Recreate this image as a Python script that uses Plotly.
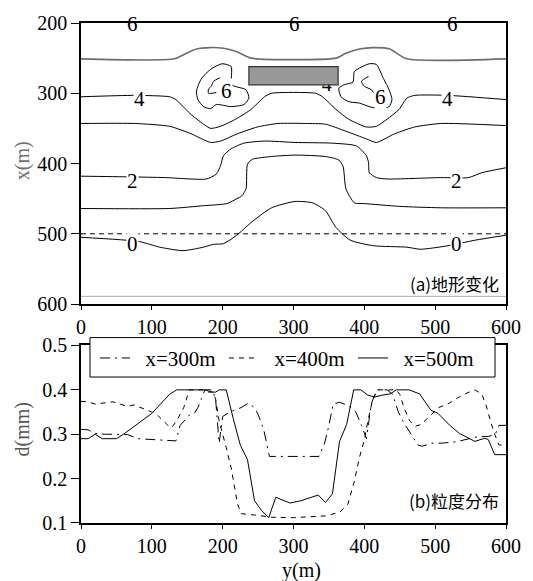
import plotly.graph_objects as go

# ---------------- (a) topography contours: y(m) along shore, x(m) cross-shore ----------------
c5_y = [0, 132, 149, 163, 182, 201, 220, 240, 360, 374, 393, 412, 436, 460, 600]
c5_x = [251, 251, 243, 237, 235, 236, 241, 250, 250, 243, 237, 235, 237, 251, 251]

c4_y = [0, 76, 125, 134, 154, 173, 183, 197, 220, 240, 259, 269, 331, 341, 360, 378, 403, 417, 432, 449, 460, 471, 518, 600]
c4_x = [305, 303, 305, 309, 329, 344, 350, 347, 336, 323, 305, 300, 300, 305, 323, 337, 348, 347, 337, 323, 307, 303, 303, 309]

c3_y = [0, 76, 125, 154, 183, 197, 220, 249, 278, 317, 345, 374, 403, 417, 442, 471, 508, 600]
c3_x = [343, 343, 347, 357, 370, 368, 358, 348, 343, 343, 344, 354, 365, 370, 358, 348, 343, 346]

c2_y = [0, 68, 119, 177, 191, 197, 201, 212, 230, 259, 302, 355, 389, 403, 406, 407, 417, 432, 508, 547, 566, 600]
c2_x = [418, 419, 420, 422, 415, 403, 389, 379, 371, 368, 370, 371, 375, 389, 399, 413, 420, 422, 420, 420, 413, 406]

c1_y = [0, 125, 173, 206, 220, 227, 233, 235, 242, 269, 302, 345, 364, 370, 374, 386, 400, 450, 508, 600]
c1_x = [464, 464, 460, 457, 450, 446, 436, 401, 394, 390, 388, 390, 395, 404, 436, 456, 457, 461, 463, 463]

c0_y = [0, 82, 111, 144, 173, 187, 201, 220, 240, 269, 302, 327, 345, 360, 380, 413, 460, 479, 518, 557, 600]
c0_x = [505, 511, 519, 524, 519, 515, 514, 502, 484, 463, 454, 456, 467, 491, 509, 517, 519, 522, 517, 509, 502]

loopL_y = [199, 212, 213, 233, 237, 230, 212, 191, 183, 173, 165, 163, 170, 183, 199]
loopL_x = [258, 262, 288, 295, 307, 316, 319, 316, 322, 319, 309, 297, 279, 266, 258]
hookL_y = [196, 187, 184, 180, 180, 191]
hookL_x = [278, 283, 290, 294, 300, 299]

loopR_y = [386, 407, 417, 427, 435, 439, 435, 422, 407, 393, 378, 367, 364, 371, 384, 386]
loopR_x = [269, 258, 259, 279, 295, 309, 319, 322, 319, 314, 312, 305, 293, 288, 284, 269]
hookR_y = [406, 396, 400, 410, 413]
hookR_x = [276, 283, 290, 295, 299]

# contour labels: (text, y, x)
label_text = ["6", "6", "6", "6", "6", "4", "4", "2", "2", "0", "0"]
label_y = [72, 302, 525, 205, 423, 82, 518, 72, 530, 72, 530]
label_x = [202, 202, 202, 297, 305, 308, 308, 425, 425, 515, 515]

breakwater_y = [237, 363]
breakwater_x = [262, 288]
section_x = 500        # dashed reference line
shore_x = 589          # grey line

# ---------------- (b) grain size distribution ----------------
y300 = [0, 10, 20, 33, 45, 66, 80, 100, 120, 134, 140, 153, 160, 165, 170, 175, 185, 190, 195, 200, 210, 226, 236, 245, 250, 258, 266, 300, 336, 344, 350, 356, 365, 377, 388, 396, 403, 410, 418, 432, 440, 448, 456, 466, 476, 482, 495, 510, 530, 548, 562, 575, 585, 590, 600]
d300 = [0.311, 0.31, 0.302, 0.30, 0.30, 0.299, 0.29, 0.288, 0.285, 0.285, 0.32, 0.343, 0.347, 0.36, 0.38, 0.40, 0.40, 0.38, 0.28, 0.34, 0.35, 0.36, 0.37, 0.36, 0.345, 0.31, 0.25, 0.25, 0.25, 0.28, 0.32, 0.368, 0.372, 0.365, 0.35, 0.32, 0.29, 0.37, 0.40, 0.40, 0.39, 0.35, 0.325, 0.30, 0.275, 0.273, 0.28, 0.28, 0.283, 0.29, 0.295, 0.295, 0.30, 0.32, 0.32]

y400 = [0, 10, 20, 30, 45, 55, 65, 75, 90, 100, 108, 122, 128, 135, 145, 153, 160, 175, 180, 186, 190, 195, 205, 212, 221, 226, 245, 270, 300, 345, 365, 377, 386, 393, 400, 405, 412, 419, 445, 450, 456, 464, 472, 480, 495, 505, 520, 535, 548, 556, 566, 572, 578, 584, 590, 600]
d400 = [0.374, 0.373, 0.368, 0.37, 0.373, 0.368, 0.363, 0.366, 0.357, 0.35, 0.343, 0.321, 0.315, 0.33, 0.36, 0.40, 0.40, 0.40, 0.395, 0.395, 0.38, 0.33, 0.27, 0.224, 0.143, 0.121, 0.118, 0.113, 0.112, 0.116, 0.124, 0.143, 0.195, 0.247, 0.287, 0.33, 0.38, 0.40, 0.40, 0.39, 0.36, 0.33, 0.318, 0.322, 0.345, 0.36, 0.37, 0.385, 0.395, 0.40, 0.39, 0.365, 0.33, 0.30, 0.276, 0.275]

y500 = [0, 10, 20, 30, 50, 60, 100, 125, 135, 175, 185, 190, 195, 205, 215, 225, 235, 245, 255, 265, 275, 295, 310, 335, 345, 355, 365, 375, 385, 395, 405, 415, 425, 437, 445, 463, 478, 494, 504, 520, 534, 556, 570, 575, 584, 600]
d500 = [0.29, 0.29, 0.30, 0.29, 0.29, 0.30, 0.347, 0.39, 0.40, 0.40, 0.395, 0.395, 0.40, 0.40, 0.335, 0.275, 0.243, 0.15, 0.128, 0.112, 0.158, 0.145, 0.15, 0.163, 0.146, 0.166, 0.284, 0.322, 0.40, 0.40, 0.388, 0.384, 0.388, 0.391, 0.40, 0.40, 0.391, 0.354, 0.347, 0.321, 0.302, 0.284, 0.291, 0.288, 0.254, 0.254]

series_names = ["x=300m", "x=400m", "x=500m"]
series_dash = ["10px,5px,2px,5px", "5px,5px", "solid"]

xticks = [0, 100, 200, 300, 400, 500, 600]
yticks_a = [200, 300, 400, 500, 600]
yticks_b = [0.1, 0.2, 0.3, 0.4, 0.5]

SERIF = "Liberation Serif, Times New Roman, serif"
SANS = "Noto Sans CJK SC, Noto Sans, sans-serif"

W, H = 533, 581
PX0, PX1 = 81, 507      # plot area left/right in page pixels
PY0, PY1 = 16, 523      # plot area top/bottom in page pixels


def px(xp):
    return (xp - PX0) / (PX1 - PX0)


def py(yp):
    return 1 - (yp - PY0) / (PY1 - PY0)


fig = go.Figure()


def contour(ys, xs, color="black", width=1.0):
    fig.add_trace(go.Scatter(x=ys, y=xs, mode="lines", xaxis="x", yaxis="y",
                             line=dict(color=color, width=width, shape="spline", smoothing=0.6),
                             showlegend=False, hoverinfo="skip"))


contour(c5_y, c5_x, color="#6e6e6e", width=1.6)
for ys, xs in [(c4_y, c4_x), (c3_y, c3_x), (c2_y, c2_x), (c1_y, c1_x), (c0_y, c0_x),
               (loopL_y, loopL_x), (hookL_y, hookL_x), (loopR_y, loopR_x), (hookR_y, hookR_x)]:
    contour(ys, xs)

# "4" partly hidden by the breakwater
fig.add_trace(go.Scatter(x=[347], y=[290], mode="text", text=["4"], xaxis="x", yaxis="y",
                         textfont=dict(family=SERIF, size=20, color="black"),
                         showlegend=False, hoverinfo="skip"))

for t, yy, xx in zip(label_text, label_y, label_x):
    fig.add_annotation(x=yy, y=xx, xref="x", yref="y", text=t, showarrow=False,
                       font=dict(family=SERIF, size=21, color="black"),
                       bgcolor="white" if xx > 250 else "rgba(0,0,0,0)", borderpad=0)

fig.add_shape(type="rect", xref="x", yref="y", x0=breakwater_y[0], x1=breakwater_y[1],
              y0=breakwater_x[0], y1=breakwater_x[1], fillcolor="#999999",
              line=dict(color="#333333", width=1.2), layer="above")
fig.add_shape(type="line", xref="x", yref="y", x0=0, x1=600, y0=section_x, y1=section_x,
              line=dict(color="black", width=1, dash="5px,4px"))
fig.add_shape(type="line", xref="x", yref="y", x0=0, x1=600, y0=shore_x, y1=shore_x,
              line=dict(color="#aaaaaa", width=1))

# (b) lines
NBSP = "\u00a0\u00a0"
for ys, ds, nm, dsh in zip([y300, y400, y500], [d300, d400, d500], series_names, series_dash):
    fig.add_trace(go.Scatter(x=ys, y=ds, mode="lines", name=NBSP + nm, xaxis="x2", yaxis="y2",
                             line=dict(color="black", width=1, dash=dsh)))

# legend box
fig.add_shape(type="rect", xref="paper", yref="paper", x0=px(90), x1=px(496),
              y0=py(375), y1=py(335),
              fillcolor="white", line=dict(color="black", width=1), layer="above")

fig.add_annotation(x=px(502), y=py(280), xref="paper", yref="paper",
                   text="(a)地形变化", showarrow=False, xanchor="right", yanchor="middle",
                   font=dict(family=SANS, size=17, color="black"))
fig.add_annotation(x=px(502), y=py(500), xref="paper", yref="paper",
                   text="(b)粒度分布", showarrow=False, xanchor="right", yanchor="middle",
                   font=dict(family=SANS, size=17, color="black"))
fig.add_annotation(x=px(22), y=py(156), xref="paper", yref="paper",
                   text="x(m)", showarrow=False, textangle=-90, xanchor="center", yanchor="middle",
                   font=dict(family=SERIF, size=20, color="#707070"))
fig.add_annotation(x=px(22), y=py(428), xref="paper", yref="paper",
                   text="d(mm)", showarrow=False, textangle=-90, xanchor="center", yanchor="middle",
                   font=dict(family=SERIF, size=20, color="#555555"))
fig.add_annotation(x=px(302), y=py(571), xref="paper", yref="paper",
                   text="y(m)", showarrow=False, xanchor="center", yanchor="middle",
                   font=dict(family=SERIF, size=20, color="black"))

axis_common = dict(showline=True, linecolor="black", linewidth=1.5, mirror=True, showgrid=False,
                   zeroline=False, ticks="outside", tickcolor="black",
                   tickfont=dict(family=SERIF, size=20, color="black"))

fig.update_layout(
    width=W, height=H,
    margin=dict(l=PX0, r=W - PX1, t=PY0, b=H - PY1),
    paper_bgcolor="white", plot_bgcolor="white",
    showlegend=True,
    legend=dict(orientation="h", x=px(95), y=py(356), xanchor="left",
                yanchor="middle", bgcolor="rgba(0,0,0,0)", borderwidth=0,
                font=dict(family=SERIF, size=21, color="black"),
                entrywidth=84, entrywidthmode="pixels"),
    xaxis=dict(axis_common, domain=[0, 1], range=[0, 600], tickvals=xticks, ticklen=4, anchor="y"),
    yaxis=dict(axis_common, domain=[py(301), 1], range=[600, 200], tickvals=yticks_a, ticklen=8, anchor="x"),
    xaxis2=dict(axis_common, domain=[0, 1], range=[0, 600], tickvals=xticks, ticklen=4, anchor="y2"),
    yaxis2=dict(axis_common, domain=[0, py(343)], range=[0.1, 0.5], tickvals=yticks_b,
                ticktext=["0.1", "0.2", "0.3", "0.4", "0.5"], ticklen=8, anchor="x2"),
)

fig.write_html("out.html", config={"displayModeBar": False},
               post_script="document.body.style.margin='0';document.body.style.overflow='hidden';")
